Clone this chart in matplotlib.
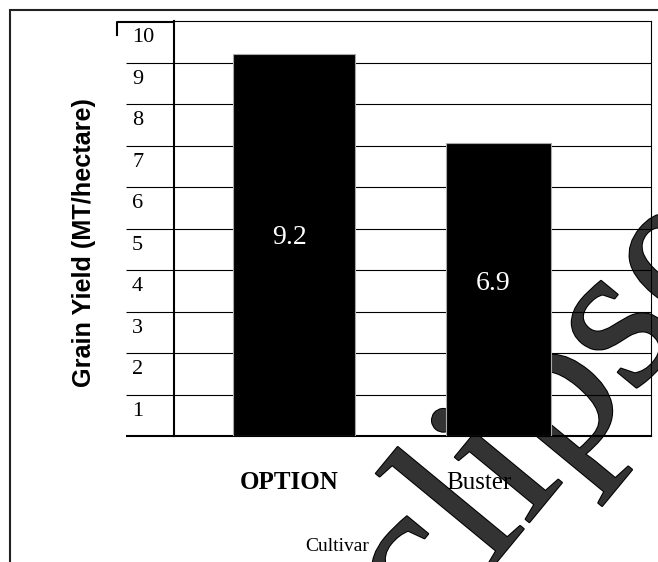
import matplotlib.pyplot as plt
import matplotlib.transforms as mtransforms
import matplotlib.patheffects as pe
from matplotlib.lines import Line2D
from matplotlib.patches import Rectangle


# Chart data
cultivars = ['OPTION', 'Buster']
grain_yield = [9.2, 7.05]
bar_text = ['9.2', '6.9']
y_ticks = [1, 2, 3, 4, 5, 6, 7, 8, 9, 10]

# Layout (axes x runs 0..1)
bar_x = [0.2516, 0.680]
bar_w = [0.256, 0.220]
W, H = 658, 562

fig = plt.figure(figsize=(6.58, 5.62), dpi=100)

# Watermark behind the chart
fig.text(344 / W, 1 - 747 / H, 'Eclipse', rotation=50.5, rotation_mode='anchor',
         ha='left', va='baseline', fontsize=155, family='Liberation Serif',
         color='#333333', zorder=-1,
         path_effects=[pe.withStroke(linewidth=1.5, foreground='black')])

ax = fig.add_axes([174 / W, 1 - 436 / H, 477 / W, 415 / H])
ax.set_facecolor('none')

ax.bar(bar_x, grain_yield, width=bar_w, color='black', edgecolor='#aaaaaa',
       linewidth=0.8, zorder=3)
ax.set_xlim(0, 1)
ax.set_ylim(0, 10)

ax.set_yticks(range(0, 10))
ax.set_yticklabels([])
ax.set_xticks([])
ax.yaxis.grid(True, color='black', linewidth=0.8)
ax.tick_params(axis='y', length=34.6, width=0.8, color='black')
ax.yaxis.get_major_ticks()[0].tick1line.set_markeredgewidth(1.5)

for side in ['top', 'right']:
    ax.spines[side].set_linewidth(0.8)
for side in ['left', 'bottom']:
    ax.spines[side].set_linewidth(1.5)

# y tick labels sit just below their grid line
ytrans = mtransforms.blended_transform_factory(ax.transAxes, ax.transData)
for t in y_ticks:
    ax.text(-0.088, t - 0.4, str(t), transform=ytrans, ha='left', va='center',
            family='Liberation Serif', fontsize=16)

# values inside bars
for x, v, s in zip(bar_x, grain_yield, bar_text):
    ax.text(x - 0.01, v * 0.52, s, color='white', ha='center', va='center',
            family='Liberation Serif', fontsize=20, zorder=4)

# category labels
xtrans = mtransforms.blended_transform_factory(ax.transData, ax.transAxes)
ax.text(bar_x[0] - 0.01, -0.113, cultivars[0], transform=xtrans, ha='center',
        va='center', family='Liberation Serif', fontweight='bold', fontsize=18)
ax.text(bar_x[1] - 0.04, -0.113, cultivars[1], transform=xtrans, ha='center',
        va='center', family='Liberation Serif', fontsize=18)

ax.text(0.342, -0.267, 'Cultivar', transform=ax.transAxes, ha='center',
        va='center', family='Liberation Serif', fontsize=14)

fig.text(84 / W, 1 - 243 / H, 'Grain Yield (MT/hectare)', rotation=90,
         ha='center', va='center', family='Liberation Sans',
         fontweight='bold', fontsize=18.2)

# odd corner mark at top-left of the value column
fig.add_artist(Line2D([117 / W, 117 / W, 174 / W], [1 - 35 / H, 1 - 22 / H, 1 - 22 / H],
                      color='black', linewidth=1.5, transform=fig.transFigure))

# outer frame (runs off the right and bottom edges)
fig.add_artist(Rectangle((10 / W, -0.5), 2, 1 - 10 / H + 0.5, fill=False,
                         edgecolor='#222222', linewidth=1.5,
                         transform=fig.transFigure))

fig.savefig('out.png', dpi=100)
